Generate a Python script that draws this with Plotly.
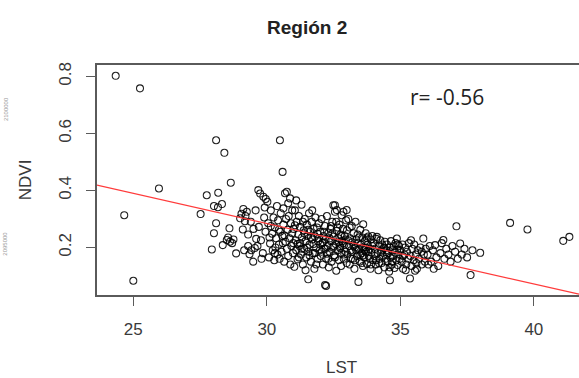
import plotly.graph_objects as go

# ---- data (LST, NDVI), grouped by LST band ----
outliers = [(24.34,0.802),(25.25,0.758),(25.96,0.407),(24.66,0.313),(25.00,0.083)]
band_27 = [(27.52,0.317),(27.75,0.383),(27.94,0.193),(28.02,0.345),(28.02,0.250),(28.10,0.285),(28.10,0.576),
           (28.17,0.341),(28.18,0.392),(28.32,0.352),(28.35,0.208),(28.41,0.532),(28.50,0.226),(28.60,0.267),
           (28.62,0.220),(28.65,0.427),(28.75,0.228),(28.85,0.179),(28.55,0.235),(28.70,0.215)]
band_29 = [(29.00,0.302),(29.05,0.318),(29.10,0.263),(29.12,0.335),(29.20,0.310),(29.18,0.292),(29.25,0.325),
           (29.30,0.245),(29.35,0.176),(29.42,0.190),(29.49,0.150),(29.55,0.198),(29.60,0.230),(29.68,0.401),
           (29.70,0.272),(29.75,0.389),(29.80,0.160),(29.85,0.180),(29.87,0.378),(29.90,0.305),(29.95,0.255),
           (29.92,0.340),(29.40,0.290),(29.58,0.330),(29.65,0.205),(29.78,0.225),(29.30,0.205),(29.50,0.265),
           (29.96,0.370),(29.15,0.190)]
band_30 = [(30.02,0.360),(30.05,0.285),(30.08,0.165),(30.12,0.214),(30.15,0.330),(30.20,0.248),(30.22,0.190),
           (30.25,0.305),(30.28,0.155),(30.30,0.270),(30.35,0.232),(30.38,0.345),(30.40,0.175),(30.42,0.295),
           (30.45,0.210),(30.48,0.160),(30.49,0.576),(30.50,0.255),(30.52,0.320),(30.55,0.185),(30.58,0.240),
           (30.59,0.465),(30.62,0.337),(30.62,0.280),(30.65,0.150),(30.68,0.390),(30.70,0.220),(30.72,0.300),
           (30.75,0.395),(30.75,0.195),(30.78,0.262),(30.80,0.170),(30.82,0.310),(30.85,0.232),(30.87,0.372),
           (30.88,0.140),(30.90,0.285),(30.92,0.205),(30.95,0.250),(30.98,0.180),(30.10,0.235),(30.32,0.200),
           (30.60,0.215),(30.80,0.355),(30.95,0.330),(30.30,0.180),(30.15,0.275),(30.45,0.262),(30.66,0.242),
           (30.99,0.215)]
band_31 = [(31.00,0.265),(31.03,0.132),(31.05,0.330),(31.08,0.225),(31.10,0.190),(31.12,0.290),(31.15,0.158),
           (31.18,0.245),(31.20,0.310),(31.22,0.205),(31.25,0.272),(31.28,0.175),(31.30,0.350),(31.32,0.235),
           (31.35,0.140),(31.38,0.260),(31.40,0.195),(31.42,0.300),(31.45,0.222),(31.48,0.165),(31.50,0.280),
           (31.52,0.240),(31.55,0.088),(31.55,0.185),(31.58,0.320),(31.60,0.210),(31.62,0.255),(31.65,0.150),
           (31.68,0.290),(31.70,0.228),(31.72,0.180),(31.75,0.265),(31.78,0.125),(31.80,0.238),(31.82,0.305),
           (31.85,0.198),(31.88,0.270),(31.90,0.160),(31.92,0.222),(31.95,0.285),(31.98,0.190),(31.10,0.365),
           (31.25,0.215),(31.40,0.250),(31.60,0.172),(31.75,0.212),(31.90,0.248),(31.05,0.278),(31.35,0.290),
           (31.50,0.200),(31.65,0.235),(31.85,0.140),(31.20,0.165),(31.45,0.120),(31.70,0.330),(31.95,0.232),
           (31.15,0.212),(31.55,0.262),(31.80,0.180),(31.30,0.195)]
band_32 = [(32.00,0.255),(32.02,0.170),(32.05,0.300),(32.08,0.215),(32.10,0.140),(32.12,0.240),(32.15,0.195),
           (32.18,0.068),(32.18,0.275),(32.20,0.228),(32.22,0.065),(32.22,0.160),(32.25,0.310),(32.28,0.205),
           (32.30,0.250),(32.32,0.130),(32.35,0.185),(32.38,0.265),(32.40,0.222),(32.42,0.150),(32.45,0.290),
           (32.48,0.200),(32.49,0.348),(32.50,0.238),(32.52,0.172),(32.55,0.325),(32.55,0.348),(32.58,0.212),
           (32.60,0.118),(32.62,0.331),(32.62,0.258),(32.65,0.190),(32.68,0.232),(32.70,0.155),(32.72,0.280),
           (32.74,0.205),(32.76,0.245),(32.78,0.135),(32.80,0.313),(32.80,0.180),(32.82,0.222),(32.85,0.265),
           (32.87,0.325),(32.88,0.160),(32.90,0.210),(32.92,0.240),(32.95,0.185),(32.97,0.295),(32.99,0.331),
           (32.99,0.145),(32.05,0.185),(32.15,0.255),(32.25,0.178),(32.35,0.232),(32.45,0.248),(32.55,0.165),
           (32.65,0.270),(32.75,0.198),(32.85,0.215),(32.95,0.228),(32.10,0.218),(32.30,0.160),(32.50,0.205),
           (32.70,0.218),(32.90,0.175),(32.40,0.275),(32.60,0.290),(32.80,0.240),(32.20,0.195),(32.00,0.210)]
band_33 = [(33.00,0.260),(33.02,0.175),(33.05,0.300),(33.08,0.205),(33.10,0.140),(33.12,0.232),(33.15,0.190),
           (33.18,0.275),(33.20,0.218),(33.22,0.160),(33.25,0.250),(33.28,0.125),(33.30,0.200),(33.32,0.290),
           (33.35,0.228),(33.38,0.170),(33.40,0.245),(33.43,0.079),(33.45,0.195),(33.48,0.150),(33.50,0.262),
           (33.52,0.210),(33.55,0.180),(33.58,0.235),(33.60,0.135),(33.61,0.281),(33.62,0.200),(33.65,0.165),
           (33.68,0.222),(33.70,0.250),(33.72,0.185),(33.75,0.142),(33.78,0.210),(33.80,0.238),(33.82,0.170),
           (33.85,0.195),(33.88,0.125),(33.90,0.228),(33.92,0.182),(33.95,0.205),(33.98,0.155),(33.05,0.225),
           (33.15,0.160),(33.25,0.205),(33.35,0.190),(33.45,0.235),(33.55,0.145),(33.65,0.190),(33.75,0.232),
           (33.85,0.160),(33.95,0.240),(33.10,0.270),(33.30,0.155),(33.50,0.175),(33.70,0.200),(33.90,0.140),
           (33.20,0.185),(33.40,0.215),(33.60,0.172),(33.80,0.188)]
band_34 = [(34.00,0.215),(34.03,0.170),(34.05,0.195),(34.08,0.140),(34.10,0.230),(34.12,0.237),(34.15,0.180),
           (34.18,0.120),(34.20,0.205),(34.22,0.160),(34.25,0.225),(34.28,0.185),(34.30,0.145),(34.32,0.210),
           (34.35,0.172),(34.38,0.198),(34.40,0.130),(34.42,0.220),(34.45,0.160),(34.48,0.190),(34.50,0.210),
           (34.52,0.150),(34.55,0.180),(34.58,0.115),(34.60,0.200),(34.61,0.085),(34.63,0.165),(34.65,0.222),
           (34.68,0.140),(34.70,0.190),(34.72,0.170),(34.75,0.205),(34.78,0.128),(34.80,0.182),(34.82,0.215),
           (34.85,0.155),(34.87,0.231),(34.88,0.192),(34.90,0.138),(34.92,0.175),(34.95,0.205),(34.98,0.160),
           (34.10,0.155),(34.30,0.190),(34.50,0.175),(34.70,0.150),(34.90,0.210),(34.20,0.145),(34.40,0.200),
           (34.60,0.130)]
band_35 = [(35.00,0.190),(35.05,0.150),(35.08,0.210),(35.10,0.125),(35.15,0.175),(35.18,0.200),(35.22,0.140),
           (35.25,0.185),(35.30,0.160),(35.32,0.215),(35.36,0.091),(35.38,0.170),(35.42,0.135),(35.45,0.195),
           (35.50,0.155),(35.52,0.210),(35.58,0.175),(35.62,0.125),(35.65,0.190),(35.70,0.160),(35.75,0.200),
           (35.80,0.140),(35.86,0.231),(35.88,0.175),(35.92,0.150),(35.95,0.195),(35.20,0.120),(35.40,0.225),
           (35.60,0.145),(35.80,0.185),(35.10,0.170),(35.55,0.118)]
band_36 = [(36.02,0.175),(36.10,0.205),(36.15,0.150),(36.22,0.190),(36.30,0.208),(36.35,0.165),(36.42,0.135),
           (36.50,0.180),(36.55,0.215),(36.61,0.226),(36.65,0.160),(36.72,0.195),(36.80,0.175),(36.88,0.150),
           (36.95,0.205),(36.25,0.125),(36.05,0.140)]
band_37 = [(37.05,0.185),(37.10,0.274),(37.24,0.214),(37.30,0.175),(37.40,0.195),(37.50,0.165),(37.63,0.103),
           (37.70,0.190),(37.99,0.181),(37.15,0.160)]
far_right = [(39.11,0.286),(39.76,0.263),(41.10,0.223),(41.33,0.237)]

# regression line NDVI = intercept + slope * LST (r = -0.56)
intercept = 0.9198
slope = -0.0212
r_text = "r= -0.56"

x_range = [23.64, 41.69]
y_range = [0.033, 0.84]
x_ticks = [25, 30, 35, 40]
y_ticks = [0.2, 0.4, 0.6, 0.8]
y_ticklabels = ["0.2", "0.4", "0.6", "0.8"]

groups = [outliers, band_27, band_29, band_30, band_31, band_32, band_33,
          band_34, band_35, band_36, band_37, far_right]
lst = [p[0] for g in groups for p in g]
ndvi = [p[1] for g in groups for p in g]

fig = go.Figure()
fig.add_trace(go.Scatter(
    x=lst, y=ndvi, mode="markers", cliponaxis=False,
    marker=dict(symbol="circle-open", size=7, color="rgba(0,0,0,0.88)",
                line=dict(width=1.05, color="rgba(0,0,0,0.88)")),
    hoverinfo="skip", showlegend=False))

fig.add_trace(go.Scatter(
    x=x_range, y=[intercept + slope * v for v in x_range], mode="lines",
    line=dict(color="#ff3b3b", width=1.2), hoverinfo="skip", showlegend=False))

axis_col = "#5a5a5a"
txt_col = "#3a3a3a"
fig.update_layout(
    width=579, height=378,
    margin=dict(l=97, r=0, t=65, b=83, autoexpand=False),
    paper_bgcolor="white", plot_bgcolor="white",
    font=dict(family="Liberation Sans, Arial, sans-serif", color=txt_col, size=17),
    xaxis=dict(range=x_range, tickvals=x_ticks, ticks="outside", ticklen=9,
               tickwidth=1.3, tickcolor=axis_col, showline=True, linecolor=axis_col,
               linewidth=1.6, mirror=True, showgrid=False, zeroline=False,
               automargin=False,
               ticklabelstandoff=9, tickfont=dict(size=17, color=txt_col)),
    yaxis=dict(range=y_range, tickvals=y_ticks, ticktext=y_ticklabels, ticks="outside",
               ticklen=9, tickwidth=1.3, tickcolor=axis_col, showline=True,
               linecolor=axis_col, linewidth=1.6, mirror=False, showgrid=False,
               zeroline=False, tickangle=-90, ticklabelstandoff=8, automargin=False,
               tickfont=dict(size=17, color=txt_col)),
    annotations=[
        dict(text="<b>Región 2</b>", xref="paper", yref="paper", x=0.4357, y=1.165,
             xanchor="center", yanchor="middle", showarrow=False,
             font=dict(size=19, color="#222222")),
        dict(text="LST", xref="paper", yref="paper", x=0.508, y=-0.317,
             xanchor="center", yanchor="middle", showarrow=False,
             font=dict(size=17, color=txt_col)),
        dict(text="NDVI", xref="paper", yref="paper", x=-0.149, y=0.5,
             xanchor="center", yanchor="middle", showarrow=False, textangle=-90,
             font=dict(size=17, color=txt_col)),
        dict(text=r_text, xref="paper", yref="paper", x=0.726, y=0.861,
             xanchor="center", yanchor="middle", showarrow=False,
             font=dict(family="Open Sans, sans-serif", size=21, color="#222222")),
        dict(text="2100000", xref="paper", yref="paper", x=-0.19, y=0.81,
             xanchor="center", yanchor="middle", showarrow=False, textangle=-90,
             font=dict(size=6, color="#9a9a9a")),
        dict(text="2095000", xref="paper", yref="paper", x=-0.19, y=0.225,
             xanchor="center", yanchor="middle", showarrow=False, textangle=-90,
             font=dict(size=6, color="#9a9a9a")),
    ],
)

fig.write_html("out.html", config={"displayModeBar": False},
               post_script="document.body.style.margin='0';document.body.style.overflow='hidden';")
